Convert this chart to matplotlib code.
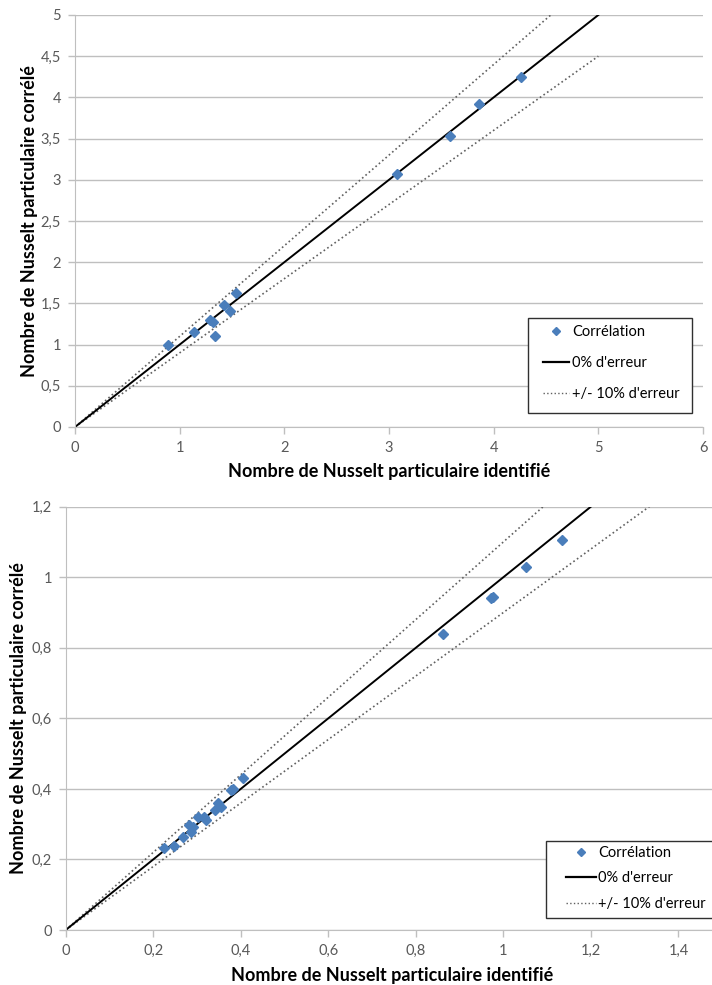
import matplotlib.pyplot as plt
from matplotlib.lines import Line2D
from matplotlib.patches import Rectangle

plt.rcParams['font.family'] = ['Lato', 'DejaVu Sans']

# --- graphique du haut ---
top_x = [0.89, 1.14, 1.29, 1.32, 1.34, 1.42, 1.48, 1.54, 3.08, 3.58, 3.86, 4.26]
top_y = [1.00, 1.15, 1.30, 1.28, 1.10, 1.48, 1.41, 1.63, 3.07, 3.53, 3.92, 4.25]
top_line_x = [0, 5]
top_zero_y = [0, 5]
top_plus_y = [0, 5.5]
top_minus_y = [0, 4.5]
top_xticks = [0, 1, 2, 3, 4, 5, 6]
top_xlabels = ["0", "1", "2", "3", "4", "5", "6"]
top_yticks = [0, 0.5, 1, 1.5, 2, 2.5, 3, 3.5, 4, 4.5, 5]
top_ylabels = ["0", "0,5", "1", "1,5", "2", "2,5", "3", "3,5", "4", "4,5", "5"]

# --- graphique du bas ---
bot_x = [0.225, 0.247, 0.267, 0.282, 0.286, 0.292, 0.303, 0.316, 0.320, 0.341,
         0.349, 0.355, 0.378, 0.383, 0.406, 0.863, 0.972, 0.977, 1.052, 1.133]
bot_y = [0.232, 0.238, 0.265, 0.298, 0.279, 0.291, 0.320, 0.320, 0.312, 0.340,
         0.361, 0.350, 0.397, 0.399, 0.430, 0.838, 0.940, 0.945, 1.028, 1.106]
bot_line_x = [0, 1.5]
bot_zero_y = [0, 1.5]
bot_plus_y = [0, 1.65]
bot_minus_y = [0, 1.35]
bot_xticks = [0, 0.2, 0.4, 0.6, 0.8, 1.0, 1.2, 1.4]
bot_xlabels = ["0", "0,2", "0,4", "0,6", "0,8", "1", "1,2", "1,4"]
bot_yticks = [0, 0.2, 0.4, 0.6, 0.8, 1.0, 1.2]
bot_ylabels = ["0", "0,2", "0,4", "0,6", "0,8", "1", "1,2"]

XLABEL = "Nombre de Nusselt particulaire identifié"
YLABEL = "Nombre de Nusselt particulaire corrélé"
LABELS = ["Corrélation", "0% d'erreur", "+/- 10% d'erreur"]

BLUE = "#4a7ebb"
GRID = "#bfbfbf"
TICKC = "#595959"
W, H = 712, 985


def style_axes(ax, xticks, xlabels, yticks, ylabels):
    ax.set_xticks(xticks)
    ax.set_xticklabels(xlabels)
    ax.set_yticks(yticks)
    ax.set_yticklabels(ylabels)
    ax.grid(True, axis="y", color=GRID, linewidth=1)
    ax.set_axisbelow(True)
    for s in ["top", "right"]:
        ax.spines[s].set_visible(False)
    for s in ["left", "bottom"]:
        ax.spines[s].set_color(GRID)
    ax.tick_params(colors=GRID, labelcolor=TICKC, labelsize=10.5,
                   length=5, width=1, pad=5)


def draw(ax, px, py, lx, zy, py_, my):
    ax.plot(lx, py_, color="#606060", linestyle=":", linewidth=1.2)
    ax.plot(lx, my, color="#606060", linestyle=":", linewidth=1.2)
    ax.plot(lx, zy, color="black", linewidth=1.4)
    ax.plot(px, py, linestyle="none", marker="D", markersize=5.5,
            color=BLUE, zorder=5)


def legend_handles():
    return [
        Line2D([], [], linestyle="none", marker="D", markersize=4, color=BLUE),
        Line2D([], [], color="black", linewidth=1.6),
        Line2D([], [], color="#606060", linestyle=":", linewidth=1),
    ]


def legend_box(fig, x0, y0, x1, y1):
    # cadre de légende en pixels (origine en haut à gauche)
    fig.add_artist(Rectangle((x0 / W, 1 - y1 / H), (x1 - x0) / W, (y1 - y0) / H,
                             transform=fig.transFigure, facecolor="white",
                             edgecolor="#303030", linewidth=1, zorder=4))


fig = plt.figure(figsize=(7.12, 9.85), dpi=100)

# haut
ax1 = fig.add_axes([75 / W, 1 - 427 / H, 628 / W, 412 / H])
draw(ax1, top_x, top_y, top_line_x, top_zero_y, top_plus_y, top_minus_y)
ax1.set_xlim(0, 6)
ax1.set_ylim(0, 5)
style_axes(ax1, top_xticks, top_xlabels, top_yticks, top_ylabels)
ax1.set_xlabel(XLABEL, fontsize=13, fontweight="bold", color="black")
ax1.set_ylabel(YLABEL, fontsize=13, fontweight="bold", color="black")
ax1.xaxis.set_label_coords(0.5, -0.088)
ax1.yaxis.set_label_coords(-37 / 628, 0.5)
legend_box(fig, 528, 318, 692, 413)
fig.legend(legend_handles(), LABELS, loc="upper left",
           bbox_to_anchor=(543 / W, 1 - 325 / H), fontsize=10.5,
           frameon=False, handlelength=1.78, handletextpad=0.2,
           labelspacing=1.18, borderpad=0, borderaxespad=0)

# bas
ax2 = fig.add_axes([65.7 / W, 1 - 930 / H, 700.2 / W, 423.3 / H])
draw(ax2, bot_x, bot_y, bot_line_x, bot_zero_y, bot_plus_y, bot_minus_y)
ax2.set_xlim(0, 1.6)
ax2.set_ylim(0, 1.2)
style_axes(ax2, bot_xticks, bot_xlabels, bot_yticks, bot_ylabels)
ax2.set_xlabel(XLABEL, fontsize=13, fontweight="bold", color="black")
ax2.set_ylabel(YLABEL, fontsize=13, fontweight="bold", color="black")
ax2.xaxis.set_label_coords(0.4667, -0.088)
ax2.yaxis.set_label_coords(-39 / 700, 0.5)
legend_box(fig, 546, 841, 780, 918)
fig.legend(legend_handles(), LABELS, loc="upper left",
           bbox_to_anchor=(566 / W, 1 - 846 / H), fontsize=10.5,
           frameon=False, handlelength=2.05, handletextpad=0.15,
           labelspacing=0.78, borderpad=0, borderaxespad=0)

fig.savefig("out.png", dpi=100)
